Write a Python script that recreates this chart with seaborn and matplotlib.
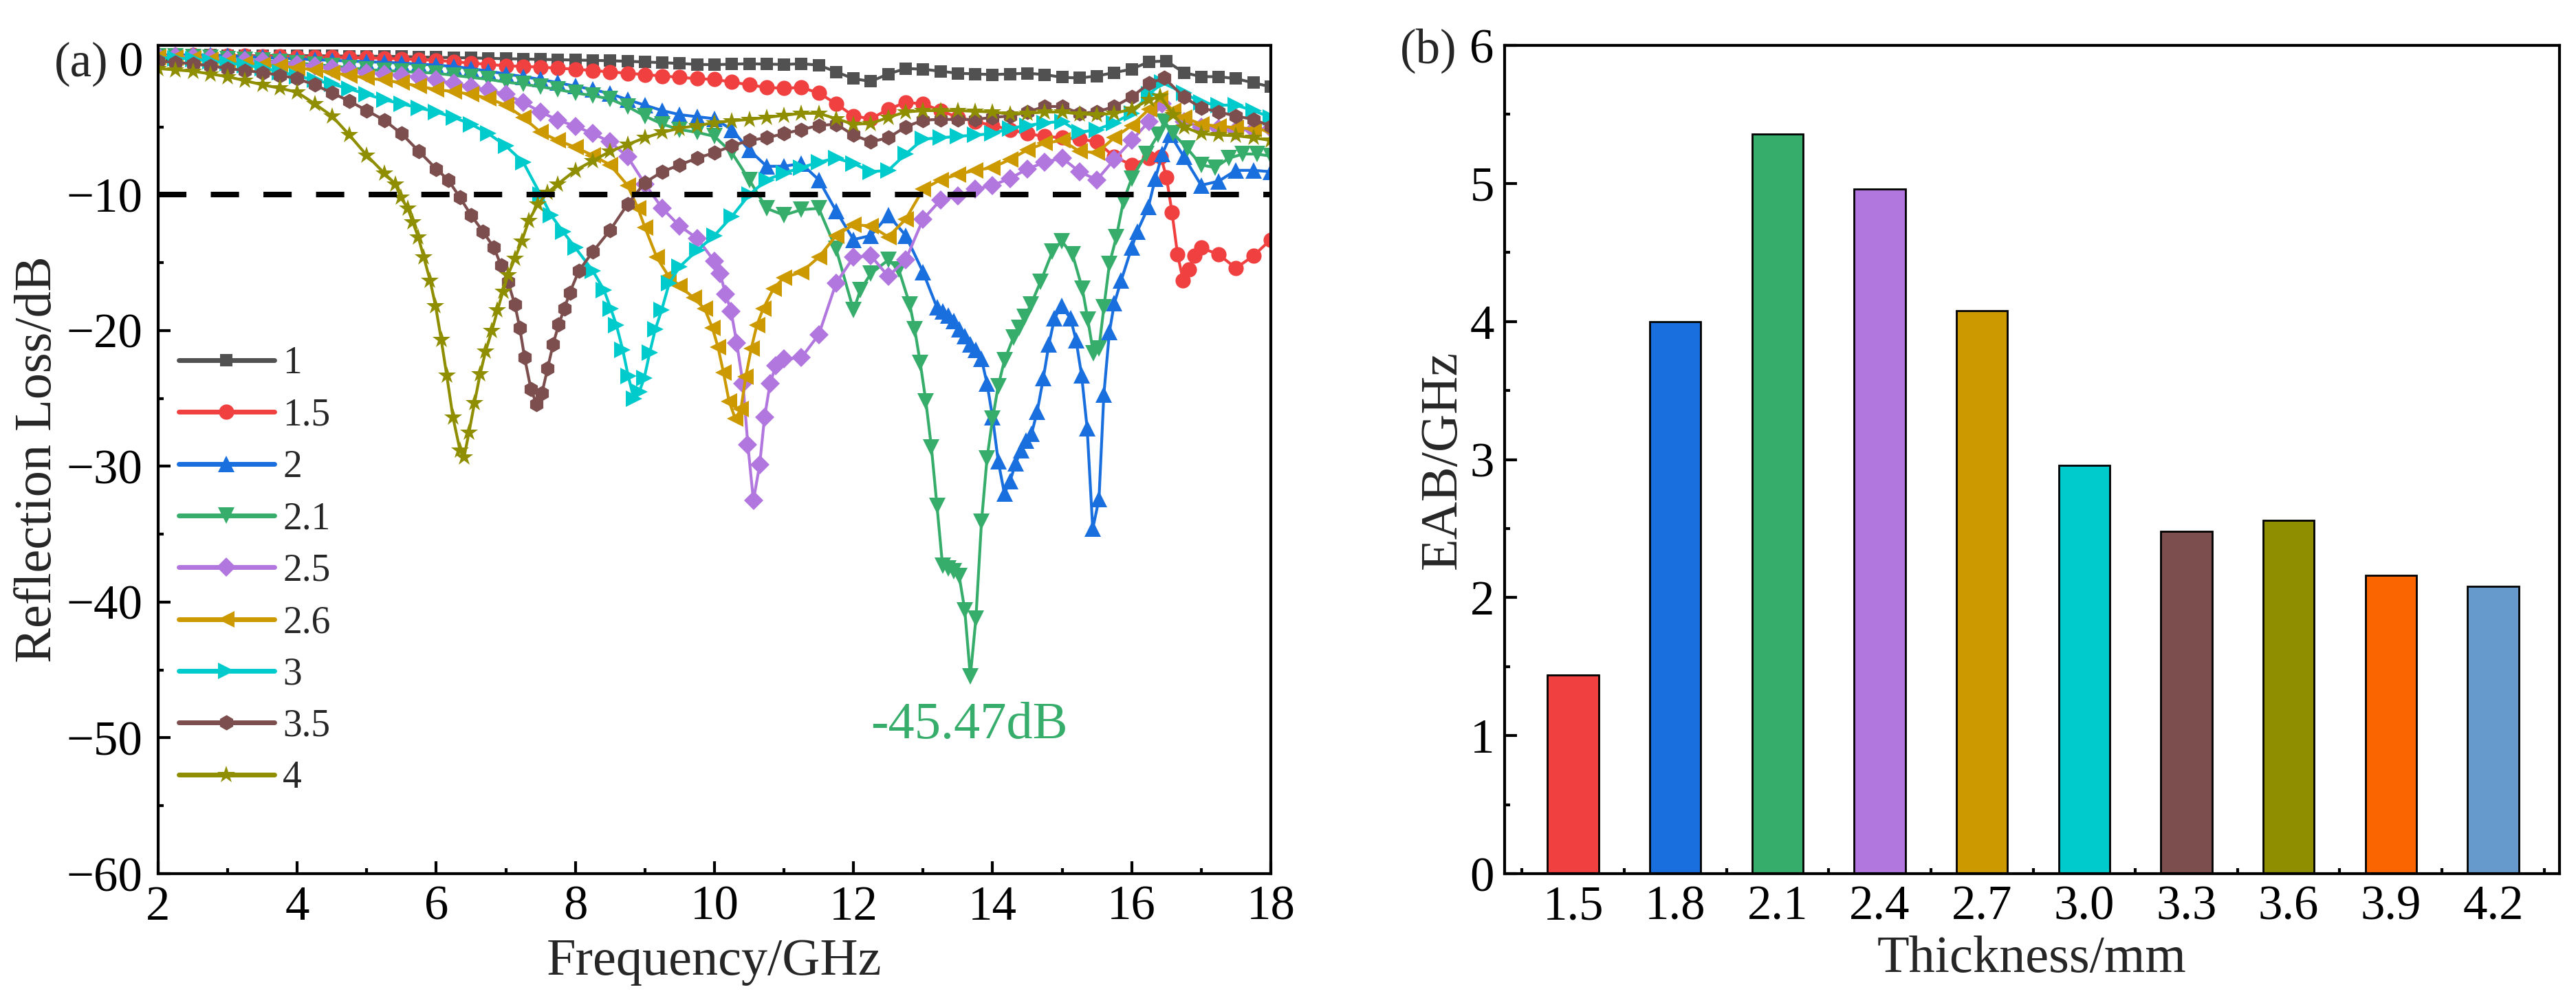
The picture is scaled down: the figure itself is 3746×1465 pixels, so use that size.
import numpy as np
import pandas as pd
import matplotlib
matplotlib.use("Agg")
import matplotlib.pyplot as plt
import matplotlib.transforms as mtransforms
from matplotlib.ticker import MultipleLocator, FixedLocator
import seaborn as sns

sns.set_style("ticks")
plt.rcParams["font.family"] = ["Liberation Serif", "DejaVu Serif"]
plt.rcParams["axes.unicode_minus"] = True

# ---------------------------------------------------------------------------
# (a) reflection loss curves
# ---------------------------------------------------------------------------

freq_grid = [2.0, 2.25, 2.5, 2.75, 3.0, 3.25, 3.5, 3.75,
             4.0, 4.25, 4.5, 4.75, 5.0, 5.25, 5.5, 5.75,
             6.0, 6.25, 6.5, 6.75, 7.0, 7.25, 7.5, 7.75,
             8.0, 8.25, 8.5, 8.75, 9.0, 9.25, 9.5, 9.75,
             10.0, 10.25, 10.5, 10.75, 11.0, 11.25, 11.5, 11.75,
             12.0, 12.25, 12.5, 12.75, 13.0, 13.25, 13.5, 13.75,
             14.0, 14.25, 14.5, 14.75, 15.0, 15.25, 15.5, 15.75,
             16.0, 16.25, 16.5, 16.75, 17.0, 17.25, 17.5, 17.75,
             18.0]

# thickness 1 mm
f_1 = freq_grid
rl_1 = [0.25, 0.27, 0.28, 0.27, 0.25, 0.24, 0.24, 0.25,
        0.25, 0.24, 0.22, 0.21, 0.2, 0.2, 0.18, 0.15,
        0.12, 0.1, 0.08, 0.05, 0.02, 0.0, -0.03, -0.05,
        -0.08, -0.1, -0.13, -0.17, -0.22, -0.27, -0.33, -0.4,
        -0.42, -0.38, -0.35, -0.38, -0.4, -0.35, -0.45, -0.95,
        -1.45, -1.65, -1.1, -0.7, -0.75, -0.9, -1.05, -1.1,
        -1.15, -1.1, -1.05, -1.15, -1.35, -1.4, -1.25, -1.0,
        -0.75, -0.2, -0.15, -1.0, -1.3, -1.3, -1.45, -1.75,
        -2.05]

# thickness 1.5 mm
f_15 = freq_grid[:58] + [16.42, 16.5, 16.58, 16.66, 16.74, 16.82, 16.9,
                         17.0, 17.25, 17.5, 17.75, 18.0]
rl_15 = [0.28, 0.28, 0.28, 0.26, 0.24, 0.22, 0.2, 0.18,
         0.16, 0.14, 0.12, 0.1, 0.08, 0.05, 0.0, -0.05,
         -0.1, -0.2, -0.3, -0.4, -0.5, -0.55, -0.6, -0.68,
         -0.75, -0.85, -0.95, -1.05, -1.15, -1.25, -1.35, -1.45,
         -1.5, -1.7, -1.9, -2.1, -2.15, -2.1, -2.5, -3.3,
         -4.2, -4.4, -3.7, -3.2, -3.3, -3.8, -4.3, -4.6,
         -4.9, -5.2, -5.5, -5.7, -5.8, -5.9, -6.1, -7.2,
         -7.8, -7.3,
         -7.2, -8.7, -11.3, -14.4, -16.3, -15.5, -14.5,
         -13.9, -14.4, -15.4, -14.5, -13.3]

# thickness 2 mm
f_2 = freq_grid[:45] + [13.2, 13.28, 13.36, 13.44, 13.52, 13.6, 13.68, 13.76, 13.84, 13.92,
                        14.0, 14.08, 14.17, 14.25, 14.33, 14.41, 14.48, 14.56, 14.64, 14.73,
                        14.81, 14.89, 14.99, 15.12, 15.2, 15.28, 15.36, 15.44, 15.53, 15.6,
                        15.68, 15.75, 15.85, 16.0, 16.08, 16.24, 16.34, 16.44, 16.56, 16.75,
                        17.0, 17.25, 17.5, 17.75, 18.0]
rl_2 = [0.3, 0.3, 0.3, 0.28, 0.22, 0.18, 0.12, 0.05,
        0.0, -0.05, -0.1, -0.15, -0.2, -0.25, -0.3, -0.38,
        -0.45, -0.55, -0.7, -0.9, -1.1, -1.3, -1.5, -1.75,
        -2.0, -2.25, -2.55, -3.0, -3.4, -3.8, -4.1, -4.25,
        -4.4, -5.2, -6.7, -7.9, -7.9, -7.7, -8.9, -11.2,
        -13.3, -13.0, -11.5, -13.0, -15.7,
        -18.3, -18.6, -18.9, -19.3, -19.9, -20.4, -21.0, -21.4, -22.1, -23.9,
        -26.4, -29.6, -32.0, -31.1, -29.8, -28.8, -28.1, -27.6, -26.0, -23.5,
        -21.0, -19.1, -18.2, -19.1, -20.7, -23.3, -27.2, -34.6, -32.4, -24.7,
        -20.1, -18.0, -16.3, -13.9, -12.7, -10.9, -8.8, -7.0, -5.6, -7.2,
        -9.3, -9.0, -8.2, -8.2, -8.3]

# thickness 2.1 mm
f_21 = freq_grid[:40] + [12.0, 12.1, 12.25, 12.5, 12.65, 12.81, 12.88, 12.96, 13.04, 13.12,
                         13.2, 13.28, 13.36, 13.44, 13.52, 13.6, 13.68, 13.76, 13.84, 13.92,
                         14.0, 14.08, 14.17, 14.3, 14.38, 14.46, 14.55, 14.69, 14.86, 14.99,
                         15.15, 15.29, 15.37, 15.45, 15.53, 15.6, 15.68, 15.78, 15.88, 16.0,
                         16.21, 16.38, 16.47, 16.6, 16.8, 17.0, 17.2, 17.4, 17.6, 17.8,
                         18.0]
rl_21 = [0.2, 0.18, 0.15, 0.08, 0.0, -0.05, -0.12, -0.2,
         -0.3, -0.4, -0.52, -0.65, -0.78, -0.85, -0.92, -0.98,
         -1.05, -1.2, -1.35, -1.5, -1.7, -1.85, -2.05, -2.25,
         -2.5, -2.7, -2.95, -3.5, -4.2, -4.8, -5.2, -5.4,
         -5.7, -6.9, -8.9, -11.0, -11.5, -11.1, -11.0, -14.0,
         -18.5, -17.0, -15.8, -14.8, -15.5, -18.1, -19.9, -22.4, -25.2, -28.6,
         -32.9, -37.3, -37.5, -37.7, -38.1, -40.6, -45.47, -41.2, -34.1, -29.4,
         -26.5, -24.1, -22.2, -20.5, -19.8, -19.0, -18.1, -16.4, -14.2, -13.4,
         -14.4, -16.9, -19.2, -21.7, -21.3, -18.3, -15.1, -13.1, -10.5, -8.8,
         -7.0, -5.6, -4.6, -5.5, -6.6, -7.8, -8.0, -7.3, -7.0, -7.0,
         -7.15]

# thickness 2.5 mm
f_25 = (freq_grid[:33]
        + [10.08, 10.16, 10.24, 10.32, 10.41, 10.48, 10.56, 10.65, 10.72, 10.8, 10.88, 11.0]
        + freq_grid[37:58]
        + [16.44, 16.75, 17.0, 17.25, 17.5, 17.75, 18.0])
rl_25 = [0.2, 0.18, 0.15, 0.08, -0.05, -0.1, -0.18, -0.28,
         -0.4, -0.5, -0.65, -0.8, -1.0, -1.1, -1.2, -1.35,
         -1.55, -1.8, -2.05, -2.3, -2.6, -3.2, -3.9, -4.5,
         -4.95, -5.5, -6.1, -7.2, -9.2, -11.0, -12.3, -13.2,
         -14.9,
         -15.8, -17.3, -18.6, -20.9, -23.9, -28.4, -32.5, -29.9, -26.4, -23.9, -22.6, -22.1,
         -22.0, -20.3, -16.5, -14.6, -14.5, -16.0, -14.8, -11.8, -10.4, -10.1,
         -9.6, -9.3, -8.8, -8.1, -7.6, -7.3, -8.3, -8.9, -7.4, -6.0, -4.6,
         -3.3, -4.6, -5.0, -5.1, -5.25, -5.2, -5.1]

# thickness 2.6 mm
f_26 = (freq_grid[:28]
        + [8.9, 9.0, 9.17, 9.34, 9.5, 9.7, 9.86, 9.97, 10.05, 10.13,
           10.21, 10.3, 10.38, 10.45, 10.53, 10.61, 10.7, 10.85, 11.0]
        + freq_grid[37:58]
        + [16.41, 16.6, 16.75, 17.0, 17.25, 17.5, 17.75, 18.0])
rl_26 = [0.15, 0.1, 0.05, -0.08, -0.2, -0.3, -0.4, -0.52,
         -0.65, -0.8, -1.0, -1.2, -1.4, -1.55, -1.75, -2.0,
         -2.25, -2.4, -2.6, -2.9, -3.4, -4.3, -5.4, -6.0,
         -6.5, -7.1, -7.8, -9.3,
         -11.0, -12.4, -14.6, -16.0, -16.7, -17.6, -18.4, -19.8, -21.2, -23.1,
         -25.2, -26.5, -25.8, -23.4, -21.3, -19.6, -18.4, -16.9, -16.1,
         -15.7, -14.6, -13.0, -12.2, -12.3, -13.1, -11.8, -9.6, -8.9, -8.5,
         -8.2, -8.0, -7.4, -6.7, -6.2, -6.0, -6.8, -6.9, -5.8, -4.9, -3.7,
         -2.9, -3.8, -4.3, -4.8, -4.95, -5.05, -5.15, -5.3]

# thickness 3 mm
f_3 = (freq_grid[:22]
       + [7.5, 7.65, 7.82, 8.0, 8.25, 8.41, 8.51, 8.59, 8.68, 8.76,
          8.84, 8.92, 8.99, 9.07, 9.15, 9.24, 9.35, 9.5]
       + freq_grid[31:58]
       + [16.44, 16.75, 17.0, 17.25, 17.5, 17.75, 18.0])
rl_3 = [0.1, 0.05, 0.0, -0.15, -0.3, -0.45, -0.65, -0.95,
        -1.25, -1.55, -1.85, -2.2, -2.6, -3.0, -3.3, -3.6,
        -3.9, -4.3, -4.8, -5.5, -6.4, -7.6,
        -10.0, -11.5, -12.7, -13.9, -15.6, -17.0, -18.4, -19.6, -21.4, -23.35,
        -25.0, -24.5, -23.5, -21.6, -19.9, -18.5, -16.5, -15.3,
        -14.1, -13.0, -11.6, -10.0, -8.9, -8.4, -8.0, -7.6, -7.3, -7.7,
        -8.3, -8.2, -7.0, -5.9, -5.8, -5.7, -5.6, -5.5, -5.1, -4.9,
        -4.7, -4.6, -5.4, -5.2, -4.7, -4.0, -2.6,
        -1.75, -2.5, -3.2, -3.4, -3.4, -3.8, -4.3]

# thickness 3.5 mm
f_35 = (freq_grid[:16]
        + [6.0, 6.17, 6.34, 6.5, 6.67, 6.83, 6.93, 7.03, 7.13, 7.2,
           7.27, 7.36, 7.44, 7.52, 7.6, 7.68, 7.76, 7.84, 7.92, 8.05]
        + freq_grid[25:58]
        + [16.47, 16.75, 17.0, 17.25, 17.5, 17.75, 18.0])
rl_35 = [-0.15, -0.25, -0.35, -0.5, -0.7, -0.85, -1.0, -1.2,
         -1.45, -1.9, -2.5, -3.1, -3.8, -4.5, -5.5, -6.8,
         -8.1, -8.9, -10.2, -11.5, -12.7, -13.9, -15.2, -16.4, -18.1, -19.8,
         -22.0, -24.3, -25.4, -24.6, -22.8, -21.0, -19.55, -18.4, -17.2, -15.6,
         -14.2, -12.6, -10.7, -9.1, -8.3, -7.8, -7.3, -6.9, -6.4, -6.0,
         -5.8, -5.5, -5.2, -4.9, -4.8, -5.6, -6.1, -5.8, -5.0, -4.5,
         -4.45, -4.45, -4.45, -4.3, -4.2, -3.9, -3.5, -3.5, -4.0, -3.9,
         -3.5, -2.8, -1.8,
         -1.4, -2.8, -3.6, -3.9, -4.2, -4.45, -4.95]

# thickness 4 mm
f_4 = (freq_grid[:14]
       + [5.41, 5.49, 5.59, 5.66, 5.74, 5.82, 5.91, 5.99, 6.07, 6.15,
          6.24, 6.34, 6.4, 6.47, 6.55, 6.63, 6.71, 6.8, 6.88, 6.96,
          7.03, 7.13, 7.23, 7.33, 7.46, 7.6, 7.75]
       + freq_grid[24:58]
       + [16.41, 16.6, 16.75, 17.0, 17.25, 17.5, 17.75, 18.0])
rl_4 = [-0.7, -0.8, -0.9, -1.1, -1.3, -1.6, -1.9, -2.15,
        -2.45, -3.3, -4.2, -5.6, -7.1, -8.4,
        -9.2, -10.2, -11.0, -12.0, -13.1, -14.6, -16.3, -18.2, -20.65, -23.3,
        -26.4, -28.8, -29.3, -27.5, -25.3, -23.2, -21.5, -20.0, -18.5, -17.1,
        -15.9, -14.7, -13.4, -11.9, -10.7, -9.85, -9.2,
        -8.2, -7.5, -6.8, -6.3, -5.8, -5.4, -5.1, -4.9, -4.7, -4.55,
        -4.45, -4.3, -4.15, -4.0, -4.0, -4.4, -4.8, -4.75, -4.3, -3.9,
        -3.8, -3.8, -3.8, -3.85, -3.9, -4.05, -4.0, -3.9, -3.9, -4.05,
        -4.1, -4.0, -3.7, -3.0,
        -2.75, -4.1, -5.0, -5.5, -5.6, -5.65, -5.8, -6.0]

curve_labels = ["1", "1.5", "2", "2.1", "2.5", "2.6", "3", "3.5", "4"]
curve_freqs = [f_1, f_15, f_2, f_21, f_25, f_26, f_3, f_35, f_4]
curve_rls = [rl_1, rl_15, rl_2, rl_21, rl_25, rl_26, rl_3, rl_35, rl_4]

min_label = "-45.47dB"

# ---------------------------------------------------------------------------
# (b) effective absorption bandwidth
# ---------------------------------------------------------------------------

thickness = ["1.5", "1.8", "2.1", "2.4", "2.7", "3.0", "3.3", "3.6", "3.9", "4.2"]
eab = [1.44, 4.00, 5.36, 4.96, 4.08, 2.96, 2.48, 2.56, 2.16, 2.08]

# styles ---------------------------------------------------------------------
curve_colors = ["#515151", "#F14040", "#1A6FDF", "#37AD6B", "#B177DE",
                "#CC9900", "#00CBCC", "#7D4E4E", "#8E8E00"]
curve_markers = ["s", "o", "^", "v", "D", "<", ">", "h", "*"]
curve_msizes = [13, 16, 17, 17, 14, 17, 17, 16, 19]
bar_colors = ["#F14040", "#1A6FDF", "#37AD6B", "#B177DE", "#CC9900",
              "#00CBCC", "#7D4E4E", "#8E8E00", "#FB6501", "#6699CC"]

TICK_FS = 51
LABEL_FS = 55
LEG_FS = 40

fig = plt.figure(figsize=(37.46, 14.65), dpi=100)
ax1 = fig.add_axes([0.0614, 0.1324, 0.4319, 0.8225])
ax2 = fig.add_axes([0.5841, 0.1324, 0.4095, 0.8225])

# left panel -----------------------------------------------------------------
for lab, f, rl, col, mk, ms in zip(curve_labels, curve_freqs, curve_rls,
                                    curve_colors, curve_markers, curve_msizes):
    assert len(f) == len(rl), lab
    sns.lineplot(x=f, y=rl, ax=ax1, color=col, marker=mk, markersize=ms,
                 markeredgewidth=0, markeredgecolor=col, linewidth=3,
                 label=lab, sort=False, errorbar=None)

ax1.axhline(-10, color="black", linewidth=5.8, linestyle=(0, (5.1, 4.4)), zorder=5)

ax1.text(13.66, -49.1, min_label, color="#37AD6B", fontsize=LABEL_FS,
         ha="center", va="center")

ax1.set_xlim(2, 18)
ax1.set_ylim(-60, 1)
ax1.xaxis.set_major_locator(MultipleLocator(2))
ax1.xaxis.set_minor_locator(MultipleLocator(1))
ax1.yaxis.set_major_locator(MultipleLocator(10))
ax1.yaxis.set_minor_locator(MultipleLocator(5))

leg = ax1.legend(loc="upper left", bbox_to_anchor=(0.0185, 0.637), frameon=False,
                 fontsize=LEG_FS, handlelength=2.5, handletextpad=0.22,
                 labelspacing=0.42, borderpad=0, borderaxespad=0)
for h in leg.legend_handles:
    h.set_linewidth(5)

ax1.set_xlabel("Frequency/GHz", fontsize=LABEL_FS)
ax1.set_ylabel("Reflection Loss/dB", fontsize=LABEL_FS)
ax1.xaxis.set_label_coords(0.5, -0.078)
ax1.yaxis.set_label_coords(-0.0865, 0.5)

trans1 = mtransforms.blended_transform_factory(ax1.transAxes, ax1.transData)
ax1.text(-0.0933, 0, "(a)", transform=trans1, ha="left", va="center_baseline",
         fontsize=TICK_FS)

# right panel ----------------------------------------------------------------
bar_df = pd.DataFrame({"Thickness": thickness, "EAB": eab})
sns.barplot(data=bar_df, x="Thickness", y="EAB", hue="Thickness",
            palette=bar_colors, saturation=1, width=0.5, edgecolor="black",
            linewidth=2, legend=False, ax=ax2)

ax2.set_xlim(-0.67, 9.65)
ax2.set_ylim(0, 6)
ax2.yaxis.set_major_locator(MultipleLocator(1))
ax2.yaxis.set_minor_locator(MultipleLocator(0.5))
ax2.xaxis.set_minor_locator(FixedLocator(np.arange(-0.5, 10, 1.0)))
ax2.set_axisbelow(True)

ax2.set_xlabel("Thickness/mm", fontsize=LABEL_FS)
ax2.set_ylabel("EAB/GHz", fontsize=LABEL_FS)
ax2.xaxis.set_label_coords(0.5, -0.075)
ax2.yaxis.set_label_coords(-0.036, 0.5)

trans2 = mtransforms.blended_transform_factory(ax2.transAxes, ax2.transData)
ax2.text(-0.099, 6, "(b)", transform=trans2, ha="left", va="center_baseline",
         fontsize=TICK_FS)

# shared axis styling ----------------------------------------------------------
for ax in (ax1, ax2):
    for sp in ax.spines.values():
        sp.set_linewidth(3)
        sp.set_color("black")
    ax.tick_params(which="both", direction="in", top=False, right=False,
                   width=3, colors="black")
    ax.tick_params(which="major", length=13)
    ax.tick_params(which="minor", length=6)
    ax.tick_params(axis="x", labelsize=TICK_FS, pad=12)

ax1.tick_params(axis="y", labelsize=TICK_FS, pad=16)
ax2.tick_params(axis="y", labelsize=TICK_FS, pad=11)

fig.savefig("out.png", dpi=100)
